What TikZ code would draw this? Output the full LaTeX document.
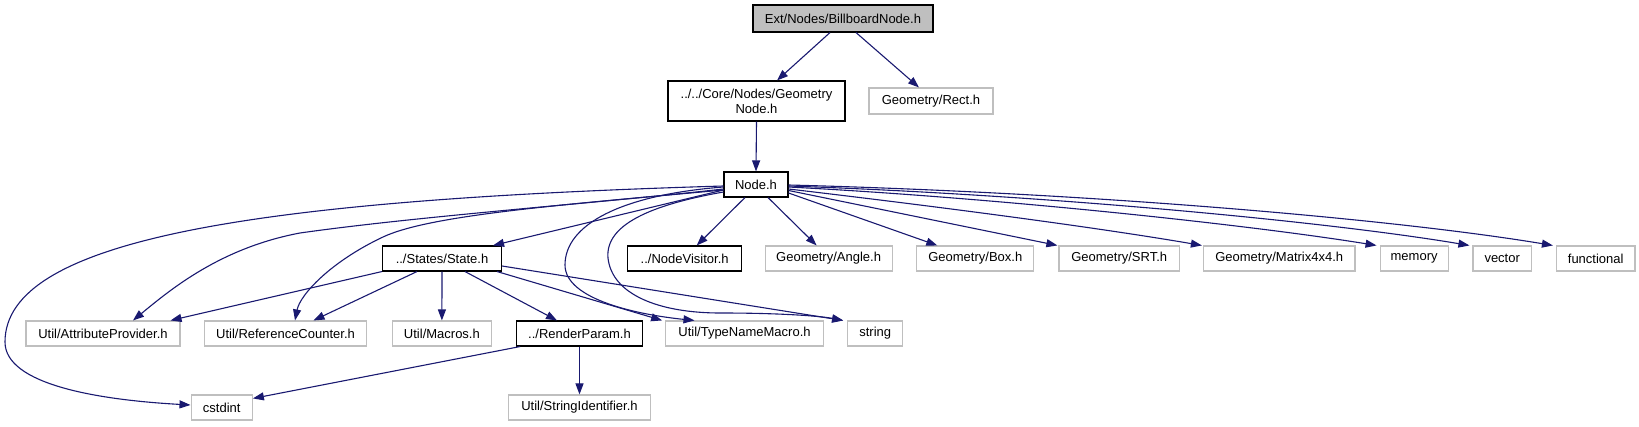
\documentclass[tikz,border=0pt]{standalone}
\usepackage{fontspec}
\setmainfont{Liberation Sans}
\usetikzlibrary{arrows.meta,calc}
\definecolor{edgec}{HTML}{191970}
\definecolor{grayb}{HTML}{BFBFBF}
\tikzset{
  box/.style={draw=black, line width=1.1pt, fill=white, inner sep=0pt, minimum height=25pt,
    font=\fontsize{13}{15}\selectfont, align=center},
  gbox/.style={box, draw=grayb},
  topbox/.style={box, fill=grayb},
  edge/.style={draw=edgec, line width=1.1pt, -{Triangle[length=11pt,width=8pt]}},
}
\begin{document}
\begin{tikzpicture}[x=1pt,y=-1pt]
\useasboundingbox (0,0) rectangle (1639,427);
% row 0/1
\node[topbox, minimum width=180pt, minimum height=27pt] (bb) at (843,18.5) {Ext/Nodes/BillboardNode.h};
\node[box, minimum width=177pt, minimum height=40pt] (gn) at (756.5,101) {../../Core/Nodes/Geometry\\Node.h};
\node[gbox, minimum width=124pt, minimum height=26pt] (rect) at (931,101) {Geometry/Rect.h};
\node[box, minimum width=64pt] (node) at (756,184.5) {Node.h};
% row 2
\node[box, minimum width=119pt] (state) at (442,258.5) {../States/State.h};
\node[box, minimum width=114pt] (visitor) at (684.7,258.5) {../NodeVisitor.h};
\node[gbox, minimum width=127pt] (angle) at (828.6,258.5) {Geometry/Angle.h};
\node[gbox, minimum width=117pt] (gbox) at (975.3,258.5) {Geometry/Box.h};
\node[gbox, minimum width=120.5pt] (srt) at (1119.2,258.5) {Geometry/SRT.h};
\node[gbox, minimum width=151.5pt] (mat) at (1279.2,258.5) {Geometry/Matrix4x4.h};
\node[gbox, minimum width=68pt] (memory) at (1414.1,258.5) {memory};
\node[gbox, minimum width=58.5pt] (vector) at (1502.2,258.5) {vector};
\node[gbox, minimum width=78.5pt] (functional) at (1595.7,258.5) {functional};
% row 3
\node[gbox, minimum width=154pt] (attr) at (103,333.5) {Util/AttributeProvider.h};
\node[gbox, minimum width=162.4pt] (ref) at (285.5,333.5) {Util/ReferenceCounter.h};
\node[gbox, minimum width=99.7pt] (macros) at (441.9,333.5) {Util/Macros.h};
\node[box, minimum width=125.6pt] (render) at (579.5,333.5) {../RenderParam.h};
\node[gbox, minimum width=157.6pt] (typename) at (744.5,333.5) {Util/TypeNameMacro.h};
\node[gbox, minimum width=55pt] (string) at (875.2,333.5) {string};
% row 4
\node[gbox, minimum width=61.3pt] (cstdint) at (221.7,407.5) {cstdint};
\node[gbox, minimum width=142.4pt] (strid) at (579.5,407.5) {Util/StringIdentifier.h};
% edges
\draw[edge] ($(bb.south)+(-13,0)$) -- ($(gn.north)+(20.5,0)$);
\draw[edge] ($(bb.south)+(13,0)$) -- ($(rect.north)+(-12,0)$);
\draw[edge] (gn.south) -- (node.north);
\draw[edge] ($(node.west)+(0,5.5)$) -- ($(state.north east)+(-9,0)$);
\draw[edge] ($(node.south)+(-11,0)$) -- ($(visitor.north)+(12,0)$);
\draw[edge] ($(node.south)+(12,0)$) -- ($(angle.north)+(-12,0)$);
\draw[edge] ($(node.east)+(0,8.5)$) -- ($(gbox.north)+(-38,0)$);
\draw[edge] ($(node.east)+(0,6)$) -- ($(srt.north west)+(-1,0)$);
\draw[edge] ($(node.east)+(0,4.5)$) .. controls (950,208) and (1100,228) .. ($(mat.north west)+(-1,0)$);
\draw[edge] ($(node.east)+(0,2.5)$) .. controls (1000,198) and (1250,225) .. ($(memory.north west)+(-3,0)$);
\draw[edge] ($(node.east)+(0,1.5)$) .. controls (1050,195) and (1330,222) .. ($(vector.north west)+(-3,0)$);
\draw[edge] ($(node.east)+(0,0.5)$) .. controls (1100,193) and (1400,220) .. ($(functional.north west)+(-3,0)$);
% left curves from Node.h
\draw[edge] ($(node.west)+(0,4.5)$) .. controls (600,203) and (420,216) .. (300,233) .. controls (220,248) and (170,290) .. ($(attr.north)+(30,0)$);
\draw[edge] ($(node.west)+(0,5.5)$) .. controls (560,205) and (430,215) .. (383,237) .. controls (330,262) and (300,295) .. ($(ref.north)+(9.5,0)$);
\draw[edge] ($(node.west)+(0,1.5)$) .. controls (250,200) and (5,240) .. (5,342) .. controls (5,385) and (100,400) .. ($(cstdint.west)+(0,-2.5)$);
\draw[edge] ($(node.west)+(0,2.5)$) .. controls (620,195) and (565,225) .. (565,265) .. controls (565,300) and (640,315) .. ($(typename.north)+(-50,0)$);
\draw[edge] ($(node.west)+(0,7.5)$) .. controls (650,205) and (605,225) .. (608,258) .. controls (612,295) and (660,313) .. (720,313) .. controls (780,313) and (820,316) .. ($(string.north west)+(-4,0)$);
% from State.h
\draw[edge] (state.south west) -- ($(attr.north east)+(-10,0)$);
\draw[edge] ($(state.south)+(-25,0)$) -- ($(ref.north)+(28,0)$);
\draw[edge] (state.south) -- (macros.north);
\draw[edge] ($(state.south)+(23,0)$) -- ($(render.north)+(-22.5,0)$);
\draw[edge] ($(state.south east)+(-5,0)$) -- ($(typename.north west)+(-3,0)$);
\draw[edge] ($(state.east)+(0,7.5)$) -- ($(string.north west)+(-4,0)$);
% from RenderParam.h
\draw[edge] ($(render.south west)+(4,0)$) -- ($(cstdint.north east)+(0,4)$);
\draw[edge] (render.south) -- (strid.north);
\end{tikzpicture}
\end{document}
